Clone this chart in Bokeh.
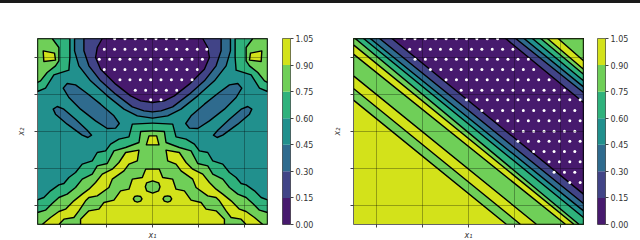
from bokeh.plotting import figure
from bokeh.layouts import row, column
from bokeh.models import FixedTicker, Range1d, Div, LinearAxis, PrintfTickFormatter
from bokeh.embed import file_html
from bokeh.resources import INLINE

C1, C2, C3, C4, C5, C6, C7 = ("#471a6e", "#414487", "#2f6b8e", "#21908d",
                              "#2fb27c", "#6fcf58", "#d3e21a")
PALETTE = [C1, C2, C3, C4, C5, C6, C7]
BAR_TICKS = [0.0, 0.15, 0.30, 0.45, 0.60, 0.75, 0.90, 1.05]
AXIS_TICKS = [-2, -1, 0, 1, 2]

# ---- digitised contour outlines, in picture-reading units ----
DOME_C3 = [(222,113),(222,150),(235,195),(270,240),(320,285),(370,325),(410,345),(455,352)]
DOME_C2 = [(250,113),(250,150),(265,195),(300,240),(345,280),(395,318),(430,330),(455,333)]
DOME_C1 = [(305,113),(290,140),(285,170),(300,205),(345,250),(390,285),(420,300),(455,305)]
LONG_BLOB = [(188,262),(200,248),(225,252),(260,278),(300,310),(340,345),(356,368),
             (345,382),(320,383),(285,360),(240,325),(205,290)]
SMALL_BLOB = [(158,325),(170,317),(190,325),(225,355),(260,388),(273,403),(262,410),
              (245,403),(200,370),(165,340)]
CORNER_C5 = [(111,113),(208,113),(208,170),(205,208),(160,222),(135,262),(111,272)]
CORNER_C6 = [(111,113),(155,113),(175,140),(175,180),(165,195),(140,215),(120,240),(111,245)]
CORNER_C7 = [(128,150),(162,157),(165,178),(130,182)]
STAIR_C5 = [(111,671),(111,597),(130,590),(150,570),(175,552),(190,548),(205,530),(225,515),
            (245,490),(275,480),(290,455),(315,450),(330,430),(355,415),(385,408),(395,370),
            (455,367)]
STAIR_C6 = [(111,671),(111,635),(135,628),(155,608),(175,590),(200,580),(225,560),(245,535),
            (275,520),(290,495),(320,488),(340,450),(375,440),(415,425),(420,392),(455,390)]
WING_C7 = [(125,671),(150,650),(175,632),(195,625),(220,600),(245,580),(265,565),(285,545),
           (305,520),(335,505),(355,485),(375,455),(415,448),(410,480),(385,490),(370,510),
           (335,535),(325,560),(290,585),(265,590),(255,600),(235,630),(220,650),(190,655),
           (175,671)]
STAIR_C7 = [(240,671),(240,655),(265,630),(295,625),(310,605),(340,598),(360,570),(385,565),
            (395,535),(425,530),(435,505),(455,505)]
CAP_C7 = [(437,432),(445,405),(468,405),(475,432)]
RING_MID = [(434,558),(438,546),(456,540),(474,546),(478,558),(474,570),(456,577),(438,570)]
RING_SIDE = [(398,594),(402,587),(410,585),(420,587),(424,594),(420,601),(410,604),(402,601)]

LEFT_DOTS = [
    (114, [342,373,404,435,466,497,528,559]),
    (145, [311,342,373,404,435,466,497,528,559,590,618]),
    (175, [296,327,358,388,419,450,481,512,543,574,605]),
    (206, [311,342,373,404,435,466,497,528,559,590]),
    (237, [358,388,419,450,481,512,543,574]),
    (268, [404,435,466,497,528]),
    (297, [450,481]),
]
RIGHT_DOTS = [
    (114, [253,284,315,346,377,408,438,469,500,531]),
    (145, [268,299,330,360,391,422,453,484,515,546,577]),
    (175, [284,315,346,377,408,438,469,500,531,562,592,623]),
    (206, [330,361,392,422,453,484,515,546,577,608,639]),
    (237, [377,408,438,469,500,531,562,592,623,654,685]),
    (268, [422,453,484,515,546,577,608,639,670,700,731]),
    (297, [438,469,500,531,562,592,623,654,685,716,747,778]),
    (329, [484,515,546,577,608,639,670,700,731,762]),
    (360, [531,562,592,623,654,685,716,747,778]),
    (391, [577,608,639,670,700,731,762]),
    (421, [592,623,654,685,716,747,778]),
    (452, [639,670,700,731,762]),
    (483, [685,716,747,778]),
    (514, [700,731,762]),
    (545, [747,778]),
]
STRIPES_LOW = [
    ((100,298),(558,671),C6),((100,263),(600,671),C7),((100,225),(648,671),C6),
    ((100,160),(735,671),C7),((100,132),(760,671),C6),((105,113),(775,671),C5),
    ((130,113),(788,650),C4),((150,113),(788,630),C3),((178,113),(788,608),C2),
    ((215,113),(788,580),C1),
]
STRIPES_HIGH = [
    ((555,113),(788,305),C2),((585,113),(788,275),C3),((610,113),(788,258),C4),
    ((635,113),(788,240),C5),((660,113),(788,220),C6),((680,113),(788,205),C7),
    ((712,113),(788,180),C6),
]

MIRROR = 911.0


def mirror(pts):
    return [(MIRROR - x, y) for x, y in pts]


def sym(half):
    return half + mirror(half)[::-1]


def left_xy(pts):
    return ([-2.5 + 5 * (x - 111) / 689 for x, y in pts],
            [2.5 - 5 * (y - 113) / 558 for x, y in pts])


def right_xy(pts):
    return ([-2.5 + 5 * (x - 100) / 688 for x, y in pts],
            [2.5 - 5 * (y - 113) / 558 for x, y in pts])


def region_above(a, b):
    pts = [a]
    if a[0] == 100 and a[1] > 113:
        pts.append((100, 113))
    pts.append((788, 113))
    if b[1] == 671 and b[0] < 788:
        pts.append((788, 671))
    pts.append(b)
    return pts


def make_fig(border_left, border_right):
    p = figure(frame_width=230, frame_height=186,
               x_range=Range1d(-2.5, 2.5), y_range=Range1d(-2.5, 2.5),
               output_backend="svg", toolbar_location=None, margin=0,
               min_border_left=border_left, min_border_top=35, min_border_bottom=16,
               min_border_right=border_right, background_fill_color=C4,
               outline_line_color="#666666", outline_line_width=1)
    for ax in (p.xaxis[0], p.yaxis[0]):
        ax.ticker = FixedTicker(ticks=AXIS_TICKS)
        ax.major_label_overrides = {t: "" for t in AXIS_TICKS}
        ax.major_label_text_font_size = "1px"
        ax.major_label_standoff = 0
        ax.major_tick_in = 0
        ax.major_tick_out = 3
        ax.minor_tick_line_color = None
        ax.major_tick_line_color = "#444444"
        ax.axis_line_color = None
        ax.axis_label_text_font = "DejaVu Sans"
        ax.axis_label_text_font_style = "italic"
        ax.axis_label_text_font_size = "8px"
        ax.axis_label_text_color = "#333333"
    p.xaxis[0].axis_label = "x\u2081"
    p.yaxis[0].axis_label = "x\u2082"
    p.xaxis[0].axis_label_standoff = 3
    p.yaxis[0].axis_label_standoff = 9
    p.grid.ticker = FixedTicker(ticks=AXIS_TICKS)
    p.grid.grid_line_color = "#000000"
    p.grid.grid_line_alpha = 0.3
    p.grid.grid_line_width = 1
    p.grid.level = "overlay"
    return p


def make_bar():
    p = figure(frame_width=8, frame_height=186,
               x_range=Range1d(0, 1), y_range=Range1d(0, 1.05),
               output_backend="svg", toolbar_location=None, margin=0,
               min_border_left=0, min_border_top=35, min_border_bottom=16, min_border_right=0,
               outline_line_color="#555555", outline_line_width=1,
               x_axis_location=None, y_axis_location=None)
    p.grid.visible = False
    p.quad(left=0, right=1, bottom=BAR_TICKS[:-1], top=BAR_TICKS[1:],
           fill_color=PALETTE, line_color=None)
    ax = LinearAxis(ticker=FixedTicker(ticks=BAR_TICKS),
                    formatter=PrintfTickFormatter(format="%.2f"))
    ax.major_tick_in = 0
    ax.major_tick_out = 3
    ax.minor_tick_line_color = None
    ax.axis_line_color = None
    ax.major_tick_line_color = "#444444"
    ax.major_label_standoff = 2
    ax.major_label_text_font = "DejaVu Sans"
    ax.major_label_text_font_size = "8px"
    ax.major_label_text_color = "#333333"
    p.add_layout(ax, "right")
    return p


def fill(p, conv, pts, color):
    xs, ys = conv(pts)
    p.patch(xs, ys, fill_color=color, line_color="#000000", line_width=1.4,
            line_join="round")


def dots(p, conv, rows):
    for y, cols in rows:
        xs, ys = conv([(c, y) for c in cols])
        p.scatter(xs, ys, size=3, color="#ffffff", line_width=0)


left = make_fig(37, 15)
for half, col in ((DOME_C3, C3), (DOME_C2, C2), (DOME_C1, C1)):
    fill(left, left_xy, sym(half), col)
for shape in (LONG_BLOB, SMALL_BLOB):
    fill(left, left_xy, shape, C3)
    fill(left, left_xy, mirror(shape), C3)
for shape, col in ((CORNER_C5, C5), (CORNER_C6, C6), (CORNER_C7, C7)):
    fill(left, left_xy, shape, col)
    fill(left, left_xy, mirror(shape), col)
fill(left, left_xy, sym(STAIR_C5), C5)
fill(left, left_xy, sym(STAIR_C6), C6)
fill(left, left_xy, WING_C7, C7)
fill(left, left_xy, mirror(WING_C7), C7)
fill(left, left_xy, sym(STAIR_C7), C7)
fill(left, left_xy, CAP_C7, C7)
fill(left, left_xy, RING_MID, C6)
fill(left, left_xy, RING_SIDE, C6)
fill(left, left_xy, mirror(RING_SIDE), C6)
dots(left, left_xy, LEFT_DOTS)

right = make_fig(37, 14)
right.background_fill_color = C7
for a, b, col in STRIPES_LOW + STRIPES_HIGH:
    fill(right, right_xy, region_above(a, b), col)
dots(right, right_xy, RIGHT_DOTS)

rule = Div(text="", width=640, height=3, margin=0, styles={"background": "#1a1a1a"})
page = column(rule, row(left, make_bar(), right, make_bar(), spacing=0), spacing=0,
              styles={"position": "absolute", "left": "0", "top": "0"})

open("out.html", "w").write(file_html(page, INLINE))
